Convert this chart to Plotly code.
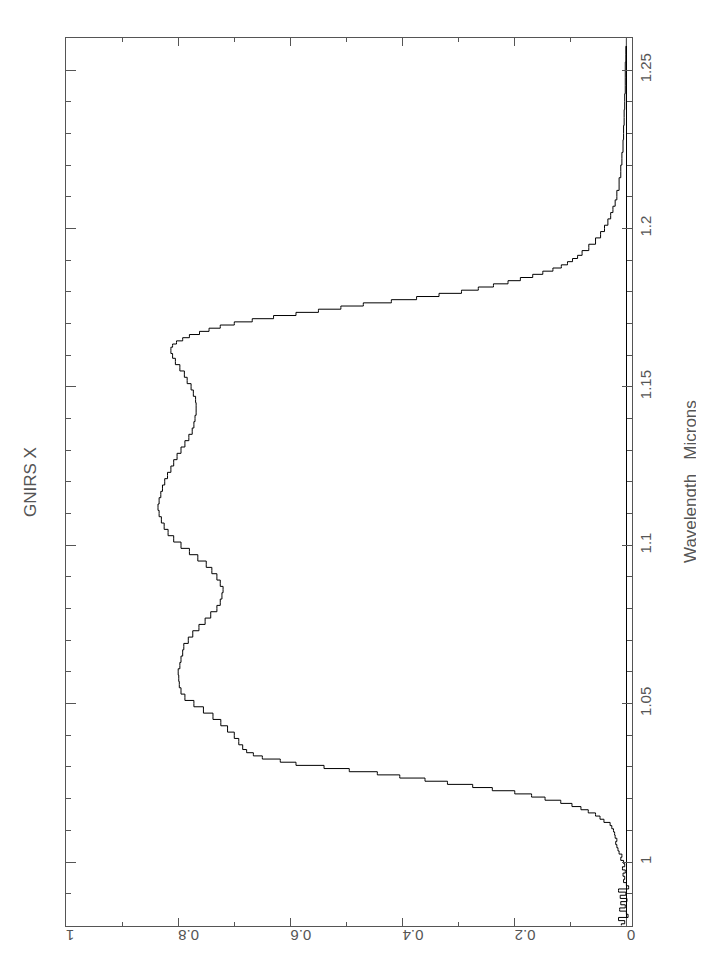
import plotly.graph_objects as go

# Wavelength (microns) and transmission
wavelength = [
    0.980, 0.981, 0.982, 0.983, 0.984, 0.985, 0.986, 0.987, 0.988, 0.989,
    0.990, 0.991, 0.992, 0.993, 0.994, 0.995, 0.996, 0.997, 0.998, 0.999,
    1.000, 1.001, 1.002, 1.003, 1.004, 1.005, 1.006, 1.007, 1.008, 1.009,
    1.010, 1.011, 1.012, 1.013, 1.014, 1.015, 1.016, 1.017, 1.018, 1.019,
    1.020, 1.021, 1.022, 1.023, 1.024, 1.025, 1.026, 1.027, 1.028, 1.029,
    1.030, 1.031, 1.032, 1.033, 1.034, 1.035, 1.036, 1.038, 1.040, 1.042,
    1.044, 1.046, 1.048, 1.050, 1.052, 1.054, 1.056, 1.058, 1.060, 1.062,
    1.064, 1.066, 1.068, 1.070, 1.072, 1.074, 1.076, 1.078, 1.080, 1.082,
    1.084, 1.086, 1.088, 1.090, 1.092, 1.094, 1.096, 1.098, 1.100, 1.102,
    1.104, 1.106, 1.108, 1.110, 1.112, 1.114, 1.116, 1.118, 1.120, 1.122,
    1.124, 1.126, 1.128, 1.130, 1.132, 1.134, 1.136, 1.138, 1.140, 1.142,
    1.144, 1.146, 1.148, 1.150, 1.152, 1.154, 1.156, 1.158, 1.160, 1.161,
    1.162, 1.163, 1.164, 1.165, 1.166, 1.167, 1.168, 1.169, 1.170, 1.171,
    1.172, 1.173, 1.174, 1.175, 1.176, 1.177, 1.178, 1.179, 1.180, 1.181,
    1.182, 1.183, 1.184, 1.185, 1.186, 1.187, 1.188, 1.189, 1.190, 1.191,
    1.192, 1.194, 1.196, 1.198, 1.200, 1.202, 1.204, 1.206, 1.208, 1.210,
    1.214, 1.218, 1.222, 1.226, 1.230, 1.235, 1.240, 1.245, 1.250, 1.255,
    1.260,
]
transmission = [
    0.010, 0.004, 0.015, -0.002, 0.001, 0.013, 0.003, 0.011, 0.000, 0.012,
    0.002, 0.015, -0.003, 0.001, 0.006, 0.004, 0.007, 0.003, 0.008, 0.004,
    0.006, 0.011, 0.009, 0.014, 0.016, 0.018, 0.020, 0.018, 0.021, 0.022,
    0.024, 0.027, 0.030, 0.041, 0.048, 0.056, 0.069, 0.082, 0.098, 0.118,
    0.146, 0.170, 0.200, 0.240, 0.275, 0.320, 0.360, 0.405, 0.445, 0.495,
    0.540, 0.590, 0.618, 0.650, 0.666, 0.678, 0.685, 0.692, 0.700, 0.712,
    0.724, 0.738, 0.755, 0.772, 0.788, 0.795, 0.798, 0.799, 0.800, 0.797,
    0.795, 0.792, 0.790, 0.782, 0.774, 0.763, 0.752, 0.742, 0.731, 0.725,
    0.722, 0.720, 0.725, 0.731, 0.740, 0.750, 0.765, 0.780, 0.795, 0.808,
    0.818, 0.825, 0.830, 0.834, 0.836, 0.834, 0.831, 0.828, 0.824, 0.819,
    0.813, 0.808, 0.802, 0.795, 0.788, 0.781, 0.775, 0.772, 0.770, 0.768,
    0.768, 0.769, 0.773, 0.777, 0.784, 0.789, 0.797, 0.805, 0.810, 0.813,
    0.813, 0.810, 0.803, 0.792, 0.780, 0.762, 0.745, 0.725, 0.700, 0.668,
    0.630, 0.590, 0.550, 0.510, 0.470, 0.420, 0.375, 0.335, 0.295, 0.265,
    0.238, 0.212, 0.190, 0.168, 0.150, 0.132, 0.117, 0.106, 0.097, 0.088,
    0.080, 0.068, 0.056, 0.047, 0.040, 0.034, 0.029, 0.025, 0.021, 0.018,
    0.014, 0.011, 0.009, 0.007, 0.006, 0.005, 0.004, 0.003, 0.003, 0.002,
    0.001,
]

trans_ticks = [0, 0.2, 0.4, 0.6, 0.8, 1]
trans_labels = ["0", "0.2", "0.4", "0.6", "0.8", "1"]
wave_ticks = [1.0, 1.05, 1.1, 1.15, 1.2, 1.25]
wave_labels = ["1", "1.05", "1.1", "1.15", "1.2", "1.25"]

title_text = "GNIRS X"
axis_label = "Wavelength\u00a0\u00a0\u00a0Microns"

AX = "#555555"
FONT = "Liberation Sans"

fig = go.Figure()
fig.add_trace(go.Scatter(
    x=transmission, y=wavelength, mode="lines",
    line=dict(color="black", width=1, shape="vhv"),
    showlegend=False, hoverinfo="skip",
))

fig.update_layout(
    width=704, height=960, autosize=False,
    margin=dict(l=58, r=80, t=30, b=42, pad=0),
    paper_bgcolor="white", plot_bgcolor="white",
    font=dict(family=FONT, color=AX),
    xaxis=dict(
        range=[1, -0.009], showgrid=False,
        zeroline=True, zerolinecolor="black", zerolinewidth=1,
        showline=True, linecolor=AX, linewidth=1, mirror="ticks",
        ticks="inside", ticklen=8, tickcolor=AX, tickwidth=1,
        tickvals=trans_ticks, ticktext=trans_labels,
        tickangle=180, tickfont=dict(size=15, color=AX, family=FONT),
        minor=dict(dtick=0.1, ticks="inside", ticklen=4, tickcolor=AX, showgrid=False),
    ),
    yaxis=dict(
        range=[0.9798, 1.2601], side="right", showgrid=False, zeroline=False,
        showline=True, linecolor=AX, linewidth=1, mirror="ticks",
        ticks="inside", ticklen=10, tickcolor=AX, tickwidth=1,
        tickvals=wave_ticks, ticktext=wave_labels,
        tickangle=-90, tickfont=dict(size=15, color=AX, family=FONT),
        minor=dict(dtick=0.01, tick0=1.0, ticks="inside", ticklen=5, tickcolor=AX, showgrid=False),
    ),
    annotations=[
        dict(text=axis_label, xref="paper", yref="paper", x=1, y=0.5,
             xshift=58, textangle=-90, showarrow=False,
             xanchor="center", yanchor="middle",
             font=dict(size=17, color=AX, family=FONT)),
        dict(text=title_text, xref="paper", yref="paper", x=0, y=0.5,
             xshift=-36, textangle=-90, showarrow=False,
             xanchor="center", yanchor="middle",
             font=dict(size=17, color=AX, family=FONT)),
    ],
)

fig.write_html("out.html")
